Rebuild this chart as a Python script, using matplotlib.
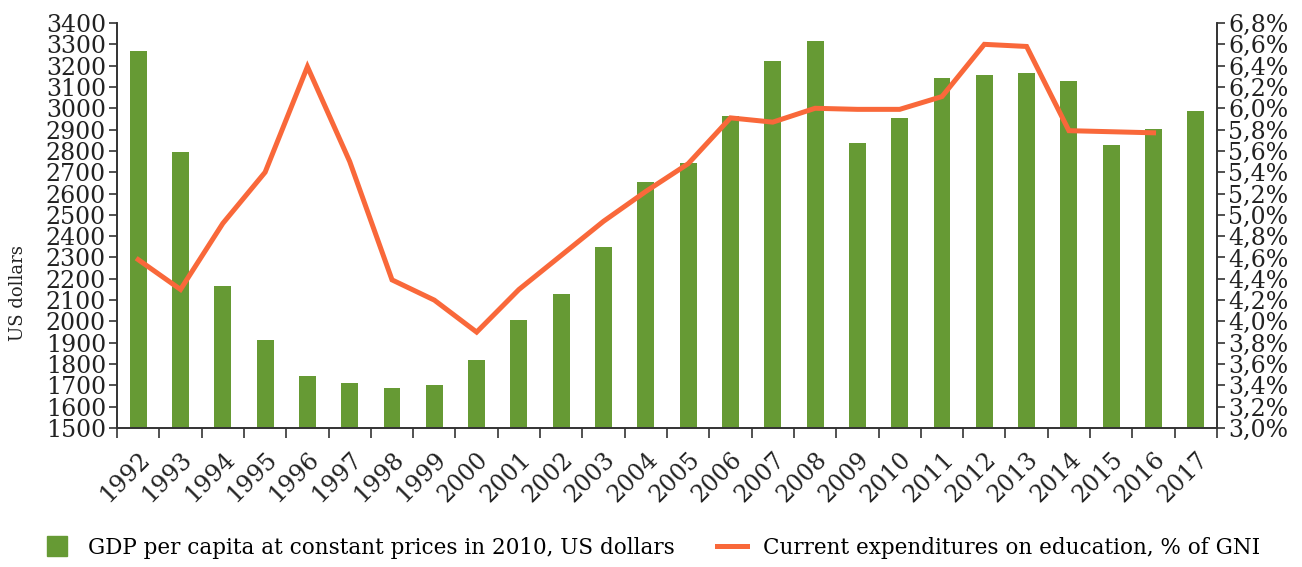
import matplotlib
matplotlib.use("Agg")
import matplotlib.pyplot as plt
from matplotlib.ticker import FixedLocator, FuncFormatter
from matplotlib.lines import Line2D

# Dados
anos = [str(a) for a in range(1992, 2018)]
pib_per_capita = [3270, 2795, 2165, 1915, 1745, 1710, 1690, 1700, 1820, 2005,
                  2130, 2350, 2655, 2745, 2965, 3220, 3315, 2835, 2955, 3140,
                  3155, 3165, 3130, 2830, 2905, 2985]
gastos_educacao = [4.58, 4.30, 4.92, 5.40, 6.39, 5.50, 4.39, 4.20, 3.90, 4.30,
                   4.62, 4.94, 5.22, 5.48, 5.91, 5.87, 6.00, 5.99, 5.99, 6.11,
                   6.60, 6.58, 5.79, 5.78, 5.77]

verde = "#669a34"
laranja = "#f9683a"
cor_eixo = "#333333"

plt.rcParams["font.family"] = ["DejaVu Serif"]

fig = plt.figure(figsize=(13.02, 5.67), dpi=100)
ax = fig.add_axes([0.0899, 0.2451, 0.9347 - 0.0899, 0.9594 - 0.2451])
ax2 = ax.twinx()

x = list(range(len(anos)))
ax.bar(x, pib_per_capita, width=0.4, color=verde, zorder=2)
ax2.plot(x[:len(gastos_educacao)], gastos_educacao, color=laranja, lw=3.6,
         solid_joinstyle="miter", zorder=3)

ax.set_xlim(-0.5, len(anos) - 0.5)
ax.set_ylim(1500, 3400)
ax2.set_ylim(3.0, 6.8)

ax.yaxis.set_major_locator(FixedLocator(range(1500, 3401, 100)))
ax2.yaxis.set_major_locator(FixedLocator([3.0 + 0.2 * i for i in range(20)]))
ax2.yaxis.set_major_formatter(FuncFormatter(lambda v, p: f"{v:.1f}%".replace(".", ",")))

ax.set_xticks(x)
ax.set_xticklabels(anos, rotation=45, ha="right", rotation_mode="anchor")
ax.set_xticks([i - 0.5 for i in range(len(anos) + 1)], minor=True)
ax.tick_params(axis="x", which="major", length=0, pad=14, labelsize=17, colors="#222222")
ax.tick_params(axis="x", which="minor", length=7, width=1.2, color=cor_eixo)
ax.tick_params(axis="y", length=6, width=1.2, color=cor_eixo, labelsize=17, pad=2,
               labelcolor="#222222")
ax2.tick_params(axis="y", length=6, width=1.2, color=cor_eixo, labelsize=17, pad=2,
                labelcolor="#222222")

for a in (ax, ax2):
    a.spines["top"].set_visible(False)
    for s in ("left", "right", "bottom"):
        a.spines[s].set_color(cor_eixo)
        a.spines[s].set_linewidth(1.2)

ax.set_ylabel("US dollars", fontsize=13, color="#222222")
ax.yaxis.set_label_coords(-0.082, 0.333)

handles = [Line2D([0], [0], marker="s", ms=15, color=verde, lw=0),
           Line2D([0], [0], color=laranja, lw=3.6)]
rotulos = ["GDP per capita at constant prices in 2010, US dollars",
           "Current expenditures on education, % of GNI"]
fig.legend(handles, rotulos, loc="center", bbox_to_anchor=(0.5, 1 - 548 / 567),
           ncol=2, frameon=False, fontsize=15.5, columnspacing=2.0,
           handlelength=1.4, handletextpad=0.7)

fig.savefig("out.png", dpi=100)
